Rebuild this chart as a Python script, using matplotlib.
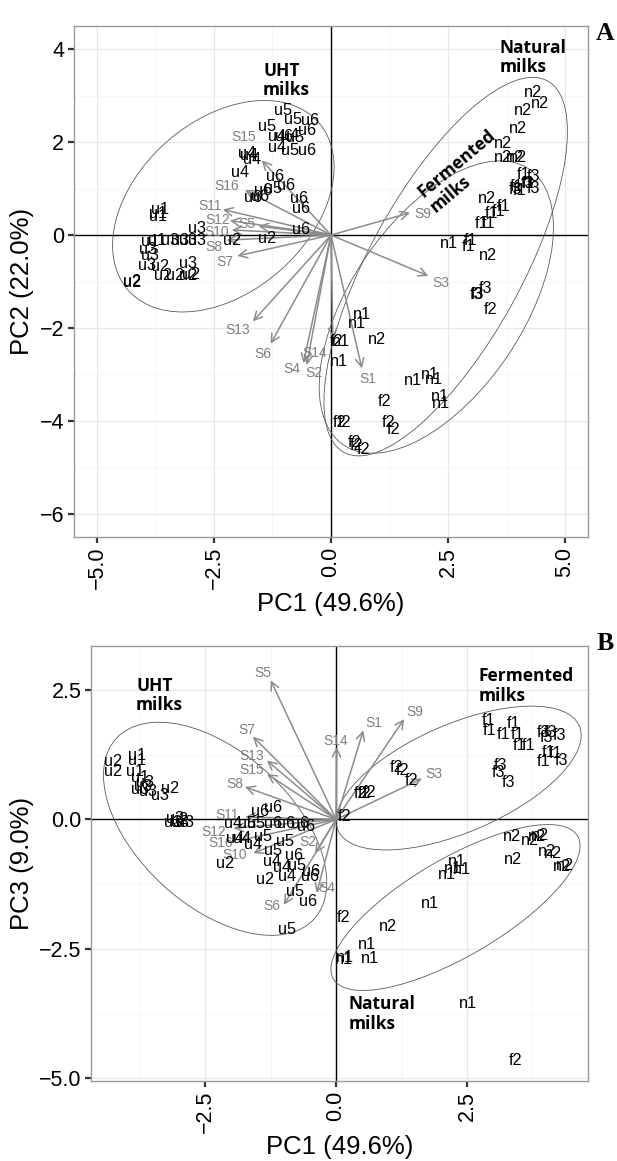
import matplotlib.pyplot as plt
from matplotlib.patches import Ellipse

# ---- panel A: PC1 vs PC2 ----
a_lab = ["u5", "u5", "u6", "u5", "u6", "u4", "u4", "u5", "u6", "u4", "u5", "u6", "u4", "u4", "u4", "u4",
         "u6", "u6", "u5", "u6", "u6", "u6", "u6", "u6", "u6", "u2", "u2",
         "u1", "u1", "u1", "u3", "u1", "u3", "u3", "u3", "u3", "u1", "u3", "u3", "u3", "u2", "u3", "u2",
         "u2", "u2", "u2", "u2", "u2",
         "n2", "n2", "n2", "n2", "n2", "n2", "n2", "n2",
         "f1", "f3", "f3", "f1", "f3", "f1", "f3", "f1",
         "n2", "f1", "f1", "f1", "f1", "f1", "n1", "f1", "f1", "n2",
         "f3", "f3", "f3", "f2",
         "n1", "n1", "n2", "f2", "n1", "n1",
         "n1", "n1", "n1", "n1", "n1",
         "f2", "f2", "f2", "f2", "f2", "f2", "f2", "f2"]
a_x = [-1.03, -0.81, -0.45, -1.36, -0.52, -1.16, -0.88, -0.77, -1.00, -1.16, -0.88, -0.52, -1.80, -1.75,
       -1.69, -1.94, -1.20, -0.95, -1.23, -1.45, -1.66, -1.51, -0.68, -0.65, -0.64, -1.37, -2.12,
       -3.65, -3.69, -3.70, -2.87, -3.87, -3.44, -3.23, -3.05, -2.87, -3.72, -3.90, -3.87, -3.92, -3.65,
       -3.05, -3.58, -3.33, -3.05, -3.00, -4.26, -4.24,
       4.32, 4.47, 4.10, 4.00, 3.68, 3.68, 3.93, 4.00,
       4.11, 4.32, 4.32, 3.97, 3.94, 4.03, 4.20, 4.22,
       3.33, 3.68, 3.43, 3.57, 3.22, 3.36, 2.51, 2.97, 2.93, 3.36,
       3.29, 3.10, 3.12, 3.40,
       0.66, 0.56, 0.99, 0.12, 0.22, 0.16,
       1.76, 2.12, 2.20, 2.33, 2.35,
       1.15, 0.19, 0.30, 1.22, 1.33, 0.51, 0.55, 0.69]
a_y = [2.69, 2.49, 2.46, 2.34, 2.24, 2.13, 2.15, 2.11, 2.13, 1.89, 1.83, 1.83, 1.76, 1.72, 1.63, 1.34,
       1.25, 1.06, 1.00, 0.95, 0.80, 0.84, 0.79, 0.57, 0.12, -0.07, -0.11,
       0.54, 0.39, 0.47, 0.14, -0.14, -0.11, -0.11, -0.11, -0.11, -0.11, -0.32, -0.43, -0.65, -0.68,
       -0.62, -0.88, -0.88, -0.88, -0.84, -1.00, -1.02,
       3.06, 2.83, 2.69, 2.29, 1.96, 1.68, 1.67, 1.67,
       1.31, 1.25, 1.00, 1.04, 0.98, 0.95, 1.10, 1.10,
       0.79, 0.61, 0.47, 0.50, 0.24, 0.24, -0.19, -0.11, -0.25, -0.43,
       -1.15, -1.29, -1.27, -1.60,
       -1.72, -1.91, -2.24, -2.29, -2.30, -2.72,
       -3.13, -3.01, -3.10, -3.48, -3.62,
       -3.58, -4.04, -4.04, -4.04, -4.19, -4.47, -4.52, -4.62]

var_names = ["S1", "S2", "S3", "S4", "S5", "S6", "S7", "S8", "S9", "S10", "S11", "S12", "S13", "S14", "S15", "S16"]
a_var_x = [0.66, -0.52, 2.08, -0.59, -1.55, -1.29, -2.00, -2.23, 1.69, -2.12, -2.31, -2.16, -1.67, 0.04, -1.48, -1.84]
a_var_y = [-2.87, -2.80, -0.88, -2.76, 0.19, -2.34, -0.45, -0.11, 0.48, 0.11, 0.55, 0.31, -1.86, -2.22, 1.61, 0.97]
a_var_lx = [0.78, -0.36, 2.34, -0.84, -1.80, -1.45, -2.27, -2.51, 1.97, -2.44, -2.59, -2.41, -2.00, -0.34, -1.87, -2.23]
a_var_ly = [-3.10, -2.96, -1.03, -2.89, 0.24, -2.57, -0.57, -0.25, 0.45, 0.07, 0.62, 0.32, -2.04, -2.53, 2.11, 1.05]

# ellipses: centre x, centre y, width, height, angle
a_ell_cx = [-2.30, 2.45, 2.25]
a_ell_cy = [0.62, -0.68, -1.55]
a_ell_w = [5.44, 9.10, 7.14]
a_ell_h = [3.68, 3.26, 3.70]
a_ell_ang = [42, 61.5, 56.5]

# ---- panel B: PC1 vs PC3 ----
b_lab = ["u2", "u1", "u1", "u2", "u1", "u1", "u3", "u3", "u2", "u3", "u3", "u3",
         "u3", "u3", "u3", "u2", "u3",
         "u6", "u6",
         "u4", "u5", "u5", "u6", "u6", "u6", "u6",
         "u4", "u4", "u5", "u5", "u5", "u4", "u2", "u6", "u4", "u4", "u5", "u2", "u4", "u6", "u6", "u5",
         "u6", "u5",
         "f2", "f2", "f2", "f2", "f2", "f2", "f2",
         "f1", "f1", "f1", "f1", "f1", "f1", "f1", "f3", "f3", "f3", "f3", "f1", "f1", "f1", "f3", "f3",
         "f3", "f3",
         "n2", "n2", "n2", "n2", "n2", "n2", "n2", "n2", "n2", "n1", "n1", "n1", "n1", "n1", "f2", "n2",
         "n1", "n1", "n1", "n1", "n1", "f2"]
b_x = [-4.25, -3.80, -3.80, -4.25, -3.84, -3.74, -3.65, -3.68, -3.17, -3.36, -3.60, -3.74,
       -3.07, -2.98, -2.88, -3.00, -3.12,
       -1.46, -1.20,
       -1.96, -1.71, -1.52, -1.20, -0.95, -0.69, -0.57,
       -1.80, -1.92, -1.39, -0.97, -1.20, -1.58, -2.12, -0.81, -1.23, -1.03, -0.75, -1.35, -0.94, -0.50,
       -0.48, -0.78, -0.53, -0.94,
       1.16, 1.27, 1.44, 0.46, 0.55, 0.63, 0.17,
       2.91, 2.93, 3.19, 3.38, 3.47, 3.51, 3.67, 3.96, 4.27, 4.02, 4.10, 4.05, 4.18, 3.96, 4.31, 3.13,
       3.10, 3.29,
       3.35, 3.70, 3.84, 3.90, 3.38, 4.02, 4.15, 4.31, 4.37, 2.30, 2.11, 2.40, 2.24, 1.79, 0.14, 1.00,
       0.59, 0.15, 0.17, 0.65, 2.52, 3.42]
b_y = [1.11, 1.24, 1.14, 0.92, 0.92, 0.82, 0.72, 0.63, 0.60, 0.47, 0.55, 0.57,
       0.02, -0.05, -0.05, 0.00, -0.05,
       0.15, 0.24,
       -0.08, -0.08, -0.08, -0.08, -0.08, -0.08, -0.14,
       -0.37, -0.37, -0.33, -0.43, -0.59, -0.49, -0.85, -0.69, -0.82, -0.92, -0.88, -1.15, -1.10, -1.10,
       -1.00, -1.39, -1.58, -2.13,
       1.01, 0.94, 0.76, 0.50, 0.50, 0.52, 0.05,
       1.91, 1.72, 1.65, 1.85, 1.65, 1.43, 1.43, 1.68, 1.63, 1.58, 1.68, 1.30, 1.27, 1.11, 1.14, 1.04,
       0.91, 0.72,
       -0.33, -0.40, -0.33, -0.30, -0.77, -0.62, -0.66, -0.91, -0.88, -0.82, -1.07, -0.97, -0.95, -1.62,
       -1.90, -2.07, -2.42, -2.71, -2.66, -2.69, -3.55, -4.66]

b_var_x = [0.52, -0.40, 1.64, -0.37, -1.25, -1.00, -1.59, -1.74, 1.30, -1.58, -1.74, -1.96, -1.32, 0.01, -1.32, -1.83]
b_var_y = [1.72, -0.65, 0.79, -1.42, 2.69, -1.65, 1.60, 0.63, 1.94, -0.65, 0.05, -0.17, 1.14, 1.40, 0.88, -0.40]
b_var_lx = [0.71, -0.53, 1.86, -0.18, -1.40, -1.23, -1.71, -1.93, 1.51, -1.93, -2.09, -2.34, -1.62, 0.00, -1.62, -2.20]
b_var_ly = [1.86, -0.43, 0.88, -1.33, 2.82, -1.68, 1.72, 0.68, 2.08, -0.69, 0.08, -0.24, 1.22, 1.51, 0.96, -0.46]

b_ell_cx = [-2.31, 2.34, 2.28]
b_ell_cy = [-0.18, 0.80, -1.70]
b_ell_w = [5.14, 5.03, 5.42]
b_ell_h = [2.95, 2.08, 1.88]
b_ell_ang = [-43, 23.7, 30.7]

# group names
a_grp = ["UHT\nmilks", "Natural\nmilks"]
a_grp_x = [-1.45, 3.61]
a_grp_y = [3.33, 3.82]
b_grp = ["UHT\nmilks", "Fermented\nmilks", "Natural\nmilks"]
b_grp_x = [-3.82, 2.72, 0.24]
b_grp_y = [2.39, 2.58, -3.76]

SANS = "Liberation Sans"
GREY = "#7f7f7f"

fig = plt.figure(figsize=(6.17, 11.61), dpi=100)
W, H = 617.0, 1161.0


def setup(ax, xlim, ylim, xmaj, xmin, ymaj, ymin, xfmt, yfmt):
    ax.set_xlim(*xlim)
    ax.set_ylim(*ylim)
    ax.set_xticks(xmaj)
    ax.set_xticks(xmin, minor=True)
    ax.set_yticks(ymaj)
    ax.set_yticks(ymin, minor=True)
    ax.set_xticklabels([xfmt.format(v).replace("-", "\u2212") for v in xmaj], rotation=90,
                       fontsize=15.5, family=SANS)
    ax.set_yticklabels([yfmt.format(v).replace("-", "\u2212") for v in ymaj], fontsize=15.5, family=SANS)
    ax.grid(which="major", color="#e8e8e8", lw=0.9, zorder=0)
    ax.grid(which="minor", color="#f4f4f4", lw=0.6, zorder=0)
    ax.tick_params(which="major", length=4, width=1.6, color="#333333", pad=3)
    ax.tick_params(which="minor", length=0)
    for s in ax.spines.values():
        s.set_color("#999999")
        s.set_linewidth(1.0)
    ax.set_axisbelow(True)
    ax.axhline(0, color="black", lw=1.0, zorder=1)
    ax.axvline(0, color="black", lw=1.0, zorder=1)


def biplot(ax, lab, xs, ys, vx, vy, vlx, vly, ecx, ecy, ew, eh, ea):
    for cx, cy, w, h, a in zip(ecx, ecy, ew, eh, ea):
        ax.add_patch(Ellipse((cx, cy), w, h, angle=a, fill=False, edgecolor="#5a5a5a", lw=0.6, zorder=2))
    for tx, ty in zip(vx, vy):
        ax.annotate("", xy=(tx, ty), xytext=(0, 0),
                    arrowprops=dict(arrowstyle="->,head_length=0.6,head_width=0.3", color="#8c8c8c",
                                    lw=1.1, shrinkA=0, shrinkB=0), zorder=3)
    for n, lx, ly in zip(var_names, vlx, vly):
        ax.text(lx, ly, n, color=GREY, fontsize=10, family=SANS, ha="center", va="center", zorder=4)
    for t, x, y in zip(lab, xs, ys):
        ax.text(x, y, t, color="black", fontsize=11.7, family=SANS, ha="center", va="center", zorder=5)


axA = fig.add_axes([74 / W, 1 - 537 / H, 514 / W, 511 / H])
setup(axA, (-5.49, 5.49), (-6.5, 4.5), [-5, -2.5, 0, 2.5, 5], [-3.75, -1.25, 1.25, 3.75],
      [-6, -4, -2, 0, 2, 4], [-5, -3, -1, 1, 3], "{:.1f}", "{:.0f}")
biplot(axA, a_lab, a_x, a_y, a_var_x, a_var_y, a_var_lx, a_var_ly,
       a_ell_cx, a_ell_cy, a_ell_w, a_ell_h, a_ell_ang)
for t, x, y in zip(a_grp, a_grp_x, a_grp_y):
    axA.text(x, y, t, fontsize=12.5, fontweight="bold", family="Open Sans", ha="left", va="center",
             linespacing=1.1, zorder=6)
axA.text(2.82, 1.38, "Fermented\nmilks", fontsize=12.5, fontweight="bold", family="Open Sans",
         ha="center", va="center", multialignment="left", rotation=40, rotation_mode="anchor",
         linespacing=1.1, zorder=6)

axB = fig.add_axes([91 / W, 1 - 1081 / H, 497 / W, 435 / H])
setup(axB, (-4.68, 4.81), (-5.05, 3.35), [-2.5, 0, 2.5], [-3.75, -1.25, 1.25, 3.75],
      [-5, -2.5, 0, 2.5], [-3.75, -1.25, 1.25], "{:.1f}", "{:.1f}")
biplot(axB, b_lab, b_x, b_y, b_var_x, b_var_y, b_var_lx, b_var_ly,
       b_ell_cx, b_ell_cy, b_ell_w, b_ell_h, b_ell_ang)
for t, x, y in zip(b_grp, b_grp_x, b_grp_y):
    axB.text(x, y, t, fontsize=12.5, fontweight="bold", family="Open Sans", ha="left", va="center",
             linespacing=1.1, zorder=6)

# axis titles and panel letters
fig.text(22 / W, 1 - 281 / H, "PC2 (22.0%)", rotation=90, fontsize=18.5, family=SANS, ha="center", va="center")
fig.text(331 / W, 1 - 604 / H, "PC1 (49.6%)", fontsize=18.5, family=SANS, ha="center", va="center")
fig.text(22 / W, 1 - 863 / H, "PC3 (9.0%)", rotation=90, fontsize=18.5, family=SANS, ha="center", va="center")
fig.text(340 / W, 1 - 1147 / H, "PC1 (49.6%)", fontsize=18.5, family=SANS, ha="center", va="center")
fig.text(605 / W, 1 - 33 / H, "A", fontsize=18.5, fontweight="bold", family="Liberation Serif", ha="center", va="center")
fig.text(605 / W, 1 - 643 / H, "B", fontsize=18.5, fontweight="bold", family="Liberation Serif", ha="center", va="center")

fig.savefig("out.png", dpi=100)
